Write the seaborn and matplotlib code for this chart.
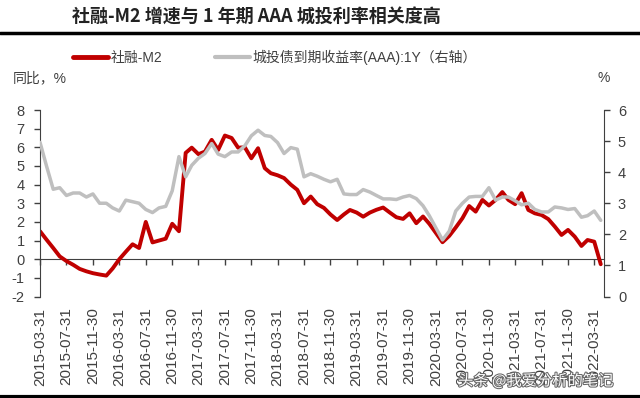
import pandas as pd
import seaborn as sns
import matplotlib.pyplot as plt
from matplotlib.lines import Line2D
import matplotlib.patheffects as pe

# monthly data, 2015-03 .. 2022-04
months = pd.date_range('2015-03-31', periods=86, freq='ME')

# social financing growth minus M2 growth (left axis, %)
tsf_m2 = [1.5, 1.05, 0.6, 0.15, -0.1, -0.3, -0.52, -0.65, -0.75, -0.82,
          -0.88, -0.5, 0.0, 0.4, 0.8, 0.6, 2.0, 0.9, 1.0, 1.1,
          1.9, 1.5, 5.7, 5.98, 5.63, 5.77, 6.4, 5.86, 6.63, 6.5,
          5.98, 6.0, 5.41, 5.95, 4.88, 4.61, 4.5, 4.35, 4.0, 3.72,
          3.0, 3.36, 2.95, 2.75, 2.4, 2.1, 2.4, 2.64, 2.5, 2.28,
          2.5, 2.65, 2.77, 2.5, 2.25, 2.16, 2.46, 1.93, 2.29, 1.9,
          1.4, 0.91, 1.25, 1.7, 2.2, 2.85, 2.55, 3.18, 2.88, 3.18,
          3.6, 3.18, 2.95, 3.54, 2.64, 2.46, 2.37, 2.15, 1.75, 1.3,
          1.57, 1.21, 0.71, 1.03, 0.94, -0.27]

# 1Y AAA chengtou bond yield (right axis, %)
ct_yield = [4.96, 4.2, 3.45, 3.5, 3.25, 3.33, 3.33, 3.2, 3.3, 3.0,
            3.0, 2.85, 2.75, 3.1, 3.05, 3.0, 2.8, 2.7, 2.85, 2.9,
            3.4, 4.5, 3.85, 4.22, 4.45, 4.6, 4.92, 4.58, 4.5, 4.65,
            4.65, 4.85, 5.17, 5.35, 5.18, 5.15, 4.95, 4.6, 4.79, 4.74,
            3.85, 3.95, 3.87, 3.77, 3.69, 3.77, 3.3, 3.28, 3.28, 3.44,
            3.36, 3.25, 3.14, 3.14, 3.12, 3.2, 3.25, 3.15, 2.92, 2.6,
            2.2, 1.82, 2.1, 2.75, 3.0, 3.2, 3.22, 3.22, 3.5, 3.1,
            3.2, 3.2, 3.08, 2.95, 3.0, 2.8, 2.72, 2.72, 2.88, 2.85,
            2.8, 2.83, 2.55, 2.6, 2.75, 2.45]

tick_dates = pd.date_range('2015-03-31', '2022-03-31', freq='4ME')
tick_labels = [d.strftime('%Y-%m-%d') for d in tick_dates]

title = '社融-M2 增速与 1 年期 AAA 城投利率相关度高'
red_label = '社融-M2'
gray_label = '城投债到期收益率(AAA):1Y（右轴）'

df = pd.DataFrame({'date': months, 'tsf_m2': tsf_m2, 'yield': ct_yield})

sns.set_style('white')
plt.rcParams['font.family'] = ['Liberation Sans', 'Noto Sans CJK SC']
plt.rcParams['axes.unicode_minus'] = False

red = '#C00000'
gray = '#BFBFBF'
dark = '#404040'

fig = plt.figure(figsize=(6.4, 3.98), dpi=100)
ax = fig.add_axes([40 / 640, 1 - 296.5 / 398, 564 / 640, 186.5 / 398])
ax2 = ax.twinx()

sns.lineplot(data=df, x='date', y='tsf_m2', ax=ax, color=red, lw=2.8)
sns.lineplot(data=df, x='date', y='yield', ax=ax2, color=gray, lw=2.5)

ax.set_xlim(pd.Timestamp('2015-03-31'), pd.Timestamp('2022-05-15'))
ax.set_ylim(-2, 8)
ax.set_yticks(range(-2, 9))
ax2.set_ylim(0, 6)
ax2.set_yticks(range(0, 7))
ax.set_xlabel('')
ax.set_ylabel('')
ax2.set_ylabel('')

ax.set_xticks(tick_dates)
ax.set_xticklabels(tick_labels, rotation=90, fontsize=11, color=dark)
ax.tick_params(axis='x', length=0, pad=8)
ax.tick_params(axis='y', direction='out', length=4, width=1, color=dark,
               labelsize=10.5, labelcolor=dark, pad=7)
ax2.tick_params(axis='y', direction='out', length=4, width=1, color=dark,
                labelsize=10.5, labelcolor=dark, pad=6)

for s in ['top', 'bottom', 'right']:
    ax.spines[s].set_visible(False)
for s in ['top', 'bottom', 'left']:
    ax2.spines[s].set_visible(False)
ax.spines['left'].set_color(dark)
ax2.spines['right'].set_color(dark)

# zero line with tick marks
zero = ax.secondary_xaxis(0.2)
zero.set_xticks(tick_dates)
zero.tick_params(direction='out', length=4, width=1, color=dark, labelbottom=False)
zero.spines['bottom'].set_color(dark)

# legend
handles = [Line2D([], [], color=red, lw=3.5), Line2D([], [], color=gray, lw=3)]
fig.legend(handles, [red_label, gray_label], loc='center left',
           bbox_to_anchor=(73 / 640, 1 - 57 / 398), ncol=2, frameon=False,
           handlelength=2.5, handletextpad=0.2, columnspacing=3.8, fontsize=10,
           borderpad=0, borderaxespad=0, labelcolor=dark)

fig.text(72 / 640, 1 - 17.5 / 398, title, fontsize=13, fontweight='bold',
         family='Noto Sans CJK SC', ha='left', va='center', color='#222222')
fig.add_artist(Line2D([0, 1], [1 - 33 / 398] * 2, color='black', lw=2.5))
fig.add_artist(Line2D([0, 1], [0.003, 0.003], color='black', lw=3))

fig.text(13 / 640, 1 - 78 / 398, '同比，%', fontsize=10, color=dark,
         ha='left', va='center')
fig.text(598 / 640, 1 - 78 / 398, '%', fontsize=10, color=dark,
         ha='left', va='center')

fig.text(458 / 640, 1 - 381 / 398, '头条 @我爱分析的笔记', fontsize=11,
         color='white', family='Noto Sans CJK SC', ha='left', va='center',
         path_effects=[pe.withStroke(linewidth=1.5, foreground='#666666')])

plt.savefig('out.png', dpi=100)
